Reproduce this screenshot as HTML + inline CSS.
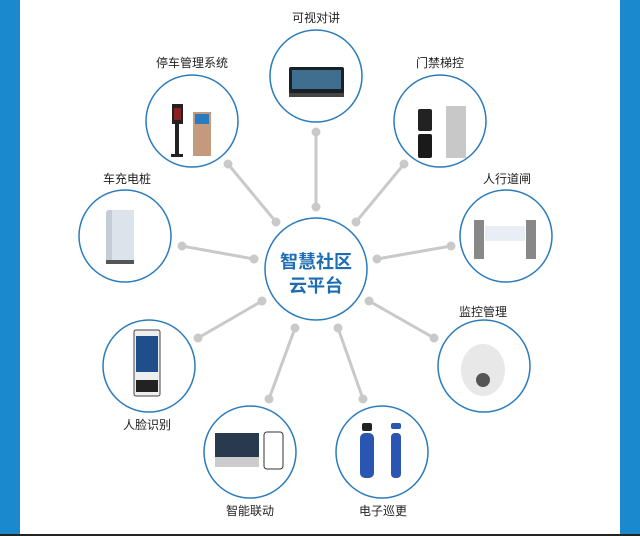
<!DOCTYPE html>
<html><head><meta charset="utf-8"><style>
html,body{margin:0;padding:0;background:#fff}
svg{display:block}
text{font-family:"Liberation Sans","Noto Sans CJK SC",sans-serif}
</style></head><body>
<svg width="640" height="536" viewBox="0 0 640 536" xmlns="http://www.w3.org/2000/svg">
<rect width="640" height="536" fill="#fff"/>
<rect x="0" y="0" width="20" height="536" fill="#1b89cd"/>
<rect x="620" y="0" width="20" height="536" fill="#1b89cd"/>
<rect x="0" y="534" width="640" height="2" fill="#222"/>

<g stroke="#c9c9c9" stroke-width="3" stroke-linecap="round" fill="#c9c9c9">
<line x1="316" y1="132" x2="316" y2="207"/><circle cx="316" cy="132" r="3"/><circle cx="316" cy="207" r="3"/>
<line x1="228" y1="164" x2="276" y2="222"/><circle cx="228" cy="164" r="3"/><circle cx="276" cy="222" r="3"/>
<line x1="404" y1="164" x2="356" y2="222"/><circle cx="404" cy="164" r="3"/><circle cx="356" cy="222" r="3"/>
<line x1="182" y1="246" x2="254" y2="259"/><circle cx="182" cy="246" r="3"/><circle cx="254" cy="259" r="3"/>
<line x1="451" y1="246" x2="377" y2="259"/><circle cx="451" cy="246" r="3"/><circle cx="377" cy="259" r="3"/>
<line x1="198" y1="338" x2="262" y2="301"/><circle cx="198" cy="338" r="3"/><circle cx="262" cy="301" r="3"/>
<line x1="434" y1="338" x2="369" y2="301"/><circle cx="434" cy="338" r="3"/><circle cx="369" cy="301" r="3"/>
<line x1="269" y1="399" x2="295" y2="328"/><circle cx="269" cy="399" r="3"/><circle cx="295" cy="328" r="3"/>
<line x1="363" y1="399" x2="338" y2="328"/><circle cx="363" cy="399" r="3"/><circle cx="338" cy="328" r="3"/>
</g>

<g fill="#fff" stroke="#2a7bbd" stroke-width="1.5">
<circle cx="316" cy="269" r="51"/>
<circle cx="316" cy="76" r="46"/>
<circle cx="192" cy="121" r="46"/>
<circle cx="440" cy="121" r="46"/>
<circle cx="125" cy="236" r="46"/>
<circle cx="506" cy="236" r="46"/>
<circle cx="149" cy="366" r="46"/>
<circle cx="484" cy="366" r="46"/>
<circle cx="250" cy="452" r="46"/>
<circle cx="382" cy="452" r="46"/>
</g>

<text x="316" y="268" text-anchor="middle" font-size="18" font-weight="bold" fill="#1d6db4">智慧社区</text>
<text x="316" y="292" text-anchor="middle" font-size="18" font-weight="bold" fill="#1d6db4">云平台</text>

<g font-size="12" fill="#222" text-anchor="middle">
<text x="316" y="22">可视对讲</text>
<text x="192" y="67">停车管理系统</text>
<text x="440" y="67">门禁梯控</text>
<text x="127" y="183">车充电桩</text>
<text x="507" y="183">人行道闸</text>
<text x="483" y="316">监控管理</text>
<text x="147" y="429">人脸识别</text>
<text x="250" y="515">智能联动</text>
<text x="383" y="515">电子巡更</text>
</g>

<rect x="289" y="67" width="55" height="27" rx="2" fill="#1b1f26"/>
<rect x="292" y="70" width="49" height="19" fill="#3f6e8e"/>
<rect x="289" y="93" width="55" height="4" fill="#444"/>
<rect x="172" y="104" width="11" height="20" fill="#222"/>
<rect x="174" y="108" width="7" height="12" fill="#8a2020"/>
<rect x="175" y="124" width="4" height="32" fill="#222"/>
<rect x="171" y="154" width="12" height="3" fill="#222"/>
<rect x="193" y="112" width="18" height="44" fill="#c49a7d"/>
<rect x="195" y="114" width="14" height="10" fill="#2a7bbd"/>
<rect x="418" y="109" width="14" height="22" rx="2" fill="#222"/>
<rect x="418" y="134" width="14" height="24" rx="2" fill="#1a1a1a"/>
<rect x="446" y="106" width="20" height="52" fill="#c8c8c8"/>
<rect x="106" y="210" width="28" height="52" rx="3" fill="#c5ccd5"/>
<rect x="112" y="210" width="22" height="52" fill="#dde3ea"/>
<rect x="106" y="260" width="28" height="4" fill="#555"/>
<rect x="474" y="220" width="10" height="39" fill="#888"/>
<rect x="526" y="220" width="10" height="39" fill="#888"/>
<rect x="485" y="226" width="40" height="15" fill="#e8eef3"/>
<rect x="134" y="330" width="26" height="66" rx="2" fill="#eee" stroke="#444"/>
<rect x="136" y="336" width="22" height="36" fill="#1e4f8a"/>
<rect x="136" y="380" width="22" height="12" fill="#222"/>
<ellipse cx="483" cy="370" rx="22" ry="26" fill="#e8e8e8"/>
<circle cx="483" cy="380" r="7" fill="#555"/>
<rect x="215" y="433" width="44" height="24" fill="#2a3a4e"/>
<rect x="215" y="457" width="44" height="10" fill="#ccc"/>
<rect x="264" y="432" width="19" height="37" rx="3" fill="#fff" stroke="#333"/>
<rect x="362" y="423" width="10" height="8" rx="2" fill="#222"/>
<rect x="360" y="433" width="14" height="45" rx="5" fill="#2a55b0"/>
<rect x="391" y="423" width="10" height="6" rx="2" fill="#2a55b0"/>
<rect x="391" y="433" width="10" height="45" rx="4" fill="#2a55b0"/>
</svg>
</body></html>
